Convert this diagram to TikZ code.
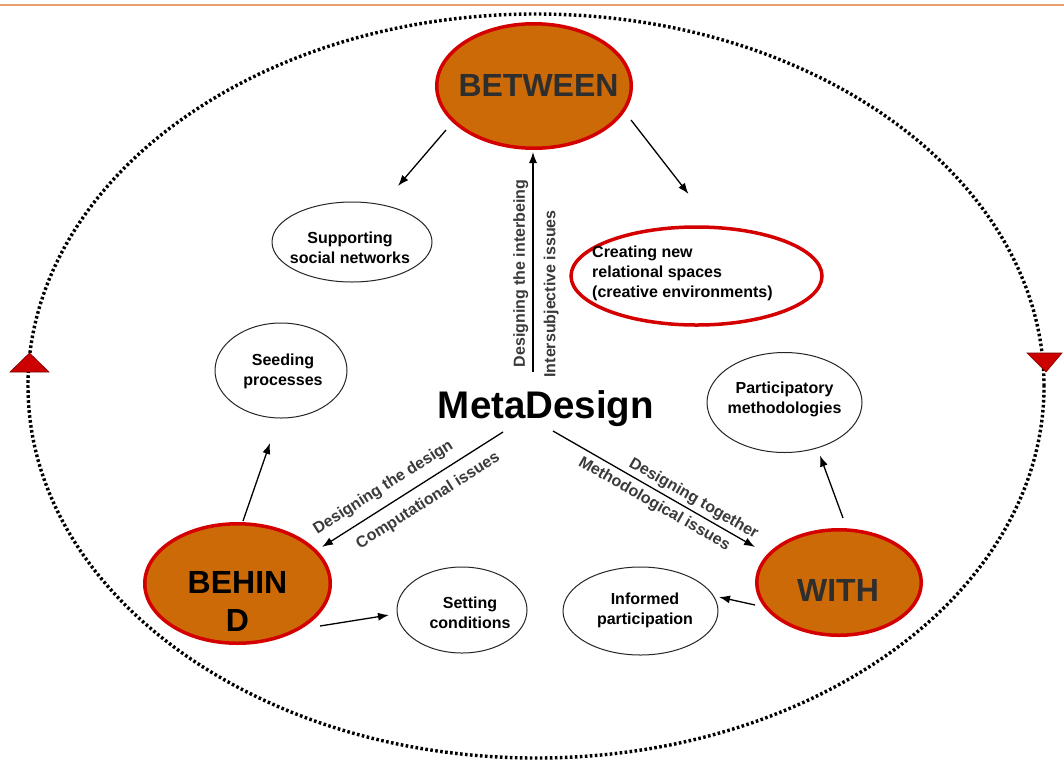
\documentclass[tikz,border=0pt]{standalone}
\usepackage{fontspec}
\setmainfont{Liberation Sans}
\usetikzlibrary{shapes.geometric,arrows.meta}
\definecolor{ovalfill}{HTML}{CC6A08}
\definecolor{ringred}{HTML}{D40000}
\definecolor{markred}{HTML}{CC0000}
\definecolor{rulecol}{HTML}{E8A070}
\definecolor{labelgray}{HTML}{3A3A3A}
\definecolor{headgray}{HTML}{2E2E2E}

\begin{document}
\begin{tikzpicture}[x=1pt,y=-1pt,
  bigoval/.style={ellipse, draw=ringred, line width=3.5pt, fill=ovalfill, inner sep=0pt, outer sep=0pt},
  redoval/.style={ellipse, draw=ringred, line width=3.5pt, fill=white, inner sep=0pt, outer sep=0pt},
  plainoval/.style={ellipse, draw=black!85, line width=1pt, fill=white, inner sep=0pt, outer sep=0pt},
  headtext/.style={font=\bfseries\fontsize{32}{38}\selectfont, align=center, inner sep=0pt, text=headgray},
  ovaltext/.style={font=\bfseries\fontsize{16}{20}\selectfont, align=center, inner sep=0pt},
  edgetext/.style={font=\bfseries\fontsize{16}{19}\selectfont, text=labelgray, inner sep=1pt, sloped},
  arr/.style={draw=black, line width=1.3pt, -{Latex[length=11pt,width=8pt]}},
  dotring/.style={draw=black, line width=3.4pt, dash pattern=on 2.6pt off 2.4pt},
  marker/.style={fill=markred, draw=markred!60!black, line width=0.6pt},
]
\useasboundingbox (0,0) rectangle (1064,761);
\fill[white] (0,0) rectangle (1064,761);

% header rule
\draw[rulecol, line width=2pt] (0,4.5) -- (1064,4.5);

% outer cycle with direction markers
\draw[dotring] (536,386) ellipse [x radius=508pt, y radius=372pt];
\filldraw[marker] (10,372) -- (49,372) -- (29.5,353) -- cycle;
\filldraw[marker] (1027,353) -- (1062,353) -- (1046,372) -- cycle;

% main ovals
\node[bigoval, minimum width=194.5pt, minimum height=124.5pt] (between) at (534,86) {};
\node[headtext] (betweentxt) at (538.5,85.5) {BETWEEN};
\node[bigoval, minimum width=185.5pt, minimum height=119.5pt] (behind) at (237.5,583.5) {};
\node[headtext, text=black] (behindtxt) at (237.5,601) {BEHIN\\D};
\node[bigoval, minimum width=164.5pt, minimum height=105.5pt] (with) at (839,582.5) {};
\node[headtext] (withtxt) at (838,590) {WITH};

% secondary ovals
\node[plainoval, minimum width=160pt, minimum height=80pt] (support) at (352,242) {};
\node[ovaltext] (supporttxt) at (350,247.5) {Supporting\\social networks};
\node[redoval, minimum width=251pt, minimum height=98pt] (creating) at (696.5,276) {};
\node[ovaltext, align=left, anchor=west] (creatingtxt) at (592,273) {Creating new\\relational spaces\\(creative environments)};
\node[plainoval, minimum width=132pt, minimum height=95pt] (seeding) at (281,370.5) {};
\node[ovaltext] (seedingtxt) at (283,371) {Seeding\\processes};
\node[plainoval, minimum width=155pt, minimum height=100pt] (particip) at (784.5,402.5) {};
\node[ovaltext] (participtxt) at (784.5,399) {Participatory\\methodologies};
\node[plainoval, minimum width=130pt, minimum height=86pt] (setting) at (462,610) {};
\node[ovaltext] (settingtxt) at (470,612.5) {Setting\\conditions};
\node[plainoval, minimum width=155pt, minimum height=88pt] (informed) at (640.5,611) {};
\node[ovaltext] (informedtxt) at (645,610.5) {Informed\\participation};

% centre title
\node[font=\bfseries\fontsize{38.5}{44}\selectfont, inner sep=0pt] (meta) at (546,409) {MetaDesign};

% three design relations
\draw[arr] ([shift={(-13,-37)}]meta.center) -- ([shift={(-1,66)}]between.center)
  node[edgetext, pos=0.448, above=3pt] {Designing the interbeing}
  node[edgetext, pos=0.355, below=9pt] {Intersubjective issues};
\draw[arr] ([shift={(-43,23)}]meta.center) -- ([shift={(84.5,-36.5)}]behind.center)
  node[edgetext, pos=0.61, above=8pt] {Designing the design}
  node[edgetext, pos=0.467, below=9pt] {Computational issues};
\draw[arr] ([shift={(7,22)}]meta.center) -- ([shift={(-84,-35.5)}]with.center)
  node[edgetext, pos=0.668, above=2pt] {Designing together}
  node[edgetext, pos=0.533, below=4pt] {Methodological issues};

% outcomes of each relation
\draw[arr] ([shift={(-88,44)}]between.center) -- ([shift={(46,-56)}]support.center);
\draw[arr] ([shift={(97,34)}]between.center) -- ([shift={(-8,-82)}]creating.center);
\draw[arr] ([shift={(5.5,-62.5)}]behind.center) -- ([shift={(-11,72.5)}]seeding.center);
\draw[arr] ([shift={(82.5,42.5)}]behind.center) -- ([shift={(-73,5)}]setting.center);
\draw[arr] ([shift={(-84,22.5)}]with.center) -- ([shift={(78.5,-14)}]informed.center);
\draw[arr] ([shift={(4,-64.5)}]with.center) -- ([shift={(35.5,53)}]particip.center);
\end{tikzpicture}
\end{document}
